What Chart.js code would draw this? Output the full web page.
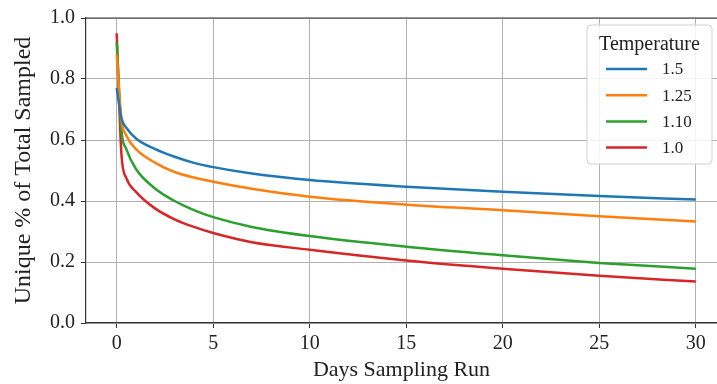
<!DOCTYPE html>
<html>
<head>
<meta charset="utf-8">
<script src="https://cdn.jsdelivr.net/npm/chart.js@4"></script>
<style>
  body { margin: 0; background: #fff; }
  #wrap { width: 717px; height: 384px; }
</style>
</head>
<body>
<div id="wrap"><canvas id="myChart" width="717" height="384"></canvas></div>
<script>
// values
const days = [0, 0.25, 0.5, 1, 2, 3, 4, 5, 7, 10, 15, 20, 25, 30];
const temps = ['1.5', '1.25', '1.10', '1.0'];
const t150 = [0.77, 0.67, 0.64, 0.605, 0.57, 0.545, 0.525, 0.511, 0.49, 0.469, 0.447, 0.43, 0.416, 0.405];
const t125 = [0.88, 0.665, 0.615, 0.57, 0.525, 0.495, 0.477, 0.463, 0.44, 0.414, 0.388, 0.37, 0.35, 0.333];
const t110 = [0.92, 0.63, 0.57, 0.505, 0.44, 0.40, 0.37, 0.347, 0.315, 0.285, 0.25, 0.222, 0.197, 0.178];
const t100 = [0.95, 0.55, 0.475, 0.43, 0.375, 0.34, 0.315, 0.295, 0.265, 0.24, 0.205, 0.178, 0.155, 0.136];
const colors = ['#1f77b4', '#ff7f0e', '#2ca02c', '#d62728'];
const xTicks = [0, 5, 10, 15, 20, 25, 30];
const yTicks = [0, 0.2, 0.4, 0.6, 0.8, 1.0];

const serif = "'Liberation Serif', 'DejaVu Serif', serif";
const series = [t150, t125, t110, t100];

const toPoints = vals => vals.map((v, i) => ({ x: days[i], y: v }));

// matplotlib-like legend box + top spine
const extras = {
  id: 'extras',
  afterDraw(chart) {
    const ctx = chart.ctx;
    const a = chart.chartArea;
    ctx.save();
    ctx.strokeStyle = '#333';
    ctx.lineWidth = 1.2;
    ctx.beginPath();
    ctx.moveTo(a.left, a.top);
    ctx.lineTo(a.right, a.top);
    ctx.stroke();

    const bx = 587, by = 25, bw = 125, bh = 139;
    ctx.fillStyle = 'rgba(255,255,255,0.85)';
    ctx.strokeStyle = '#d0d0d0';
    ctx.lineWidth = 1;
    ctx.beginPath();
    ctx.roundRect(bx, by, bw, bh, 4);
    ctx.fill();
    ctx.stroke();

    ctx.fillStyle = '#222';
    ctx.font = '20px ' + serif;
    ctx.textAlign = 'center';
    ctx.textBaseline = 'middle';
    ctx.fillText('Temperature', bx + bw / 2, 45);

    ctx.font = '17px ' + serif;
    ctx.textAlign = 'left';
    chart.data.datasets.forEach((ds, i) => {
      const y = 69 + i * 26.2;
      ctx.strokeStyle = ds.borderColor;
      ctx.lineWidth = 2.5;
      ctx.beginPath();
      ctx.moveTo(606, y);
      ctx.lineTo(647, y);
      ctx.stroke();
      ctx.fillStyle = '#222';
      ctx.fillText(ds.label, 662, y + 1);
    });
    ctx.restore();
  }
};

let myChart = document.getElementById('myChart').getContext('2d');
let newChart = new Chart(myChart, {
  type: 'line',
  data: {
    datasets: series.map((vals, i) => ({
      label: temps[i],
      data: toPoints(vals),
      borderColor: colors[i],
      backgroundColor: colors[i],
      borderWidth: 2.5,
      pointRadius: 0,
      cubicInterpolationMode: 'monotone',
      fill: false
    }))
  },
  options: {
    responsive: false,
    animation: false,
    layout: { padding: { top: 17, right: 0, left: 0, bottom: 0 } },
    plugins: {
      legend: { display: false },
      tooltip: { enabled: false }
    },
    scales: {
      x: {
        type: 'linear',
        min: -1.59,
        max: 31.1,
        afterBuildTicks: s => { s.ticks = xTicks.map(v => ({ value: v })); },
        afterFit: s => { s.height = 61; },
        ticks: {
          color: '#222',
          font: { family: serif, size: 20 },
          padding: 4,
          maxRotation: 0
        },
        grid: { color: '#b0b0b0', lineWidth: 1, tickLength: 5, tickColor: '#333' },
        border: { color: '#333', width: 1.2 },
        title: {
          display: true,
          text: 'Days Sampling Run',
          color: '#222',
          font: { family: serif, size: 22 },
          padding: { top: 0, bottom: 1 }
        }
      },
      y: {
        min: 0,
        max: 1,
        afterBuildTicks: s => { s.ticks = yTicks.map(v => ({ value: v })); },
        afterFit: s => { s.width = 86; },
        ticks: {
          color: '#222',
          font: { family: serif, size: 20 },
          padding: 6,
          callback: v => v.toFixed(1)
        },
        grid: { color: '#b0b0b0', lineWidth: 1, tickLength: 5, tickColor: '#333' },
        border: { color: '#333', width: 1.2 },
        title: {
          display: true,
          text: 'Unique % of Total Sampled',
          color: '#222',
          font: { family: serif, size: 24 },
          padding: { top: 9, bottom: 0 }
        }
      }
    }
  },
  plugins: [extras]
});
</script>
</body>
</html>
